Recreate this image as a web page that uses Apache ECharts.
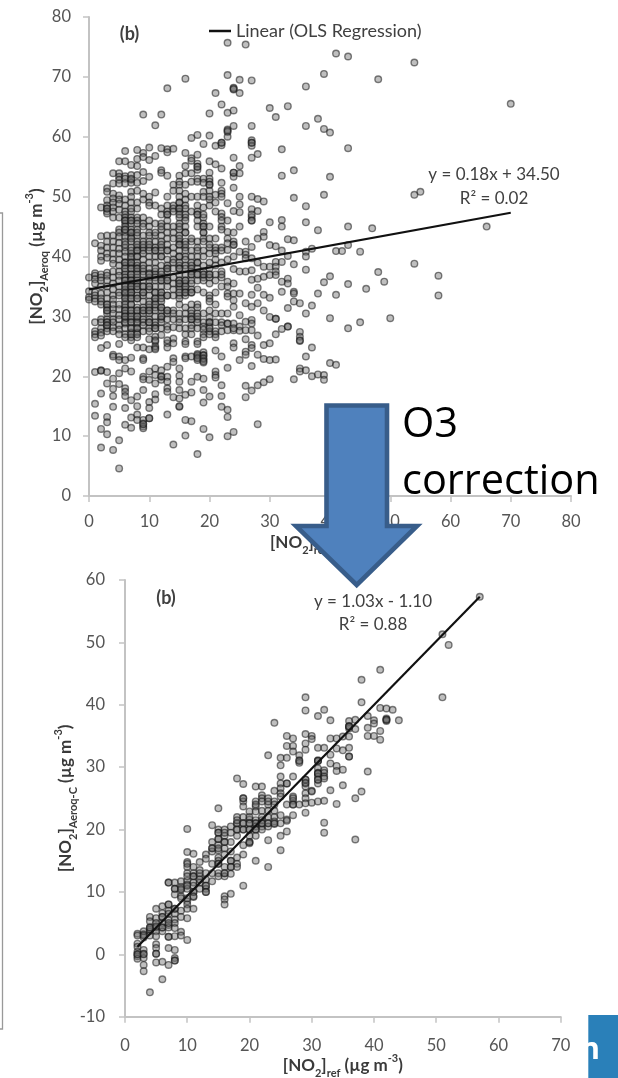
<!DOCTYPE html>
<html><head><meta charset="utf-8">
<style>html,body{margin:0;padding:0;background:#fff}
#c,#o{position:absolute;left:0;top:0;width:618px;height:1078px}
#c canvas{filter:blur(0.7px)}</style>
<script src="https://cdn.jsdelivr.net/npm/echarts@6/dist/echarts.min.js"></script>
</head><body><div id="c"></div><div id="o"></div>
<script>
// Each row: reference value x, then the sensor values read at that x
const topRows = [
[0,36.5,34.2,33.2,32.8],
[1,42.2,37.2,36.8,36.2,35.5,34,33.5,33,32.5,29,27.5,27,26.5,20.7,15.4,13.4],
[2,48.2,43.4,41.8,41,40,39.3,37,36.5,36,35,33.8,33,32.5,32,29.5,29,28,27.3,26.8,24.7,21,20.9,17.1,11.2,8.1],
[3,51.4,50.8,49.4,48.5,48,47.5,47.2,43.5,42.5,41.5,40.5,39.8,37.3,36.8,36,35,34,33,32,31.5,31,30.5,29.5,29,28.5,28,27.5,25.2,20.7,18.8,13.2,12.3,10.3],
[4,53.9,52.2,50.5,49.7,49,48.2,47.5,46.5,43.5,42.5,41.5,40.5,39.5,38.8,37.5,36.5,35.5,34.5,33.5,32.8,32,31.2,30.5,29.5,29,28.2,27.5,23.6,23.3,19.6,17.9,16.7,14.9,7.7],
[5,55.9,53.9,53.3,52.8,52.2,50.2,49.5,48.8,47.8,46.5,44.5,44,43.3,42.3,41.3,40.5,39.5,38.5,37.5,36.8,36,35,34,33.5,32,31.2,30.2,29.5,28.5,27.8,27,25.4,23.3,22.7,20.5,18.7,9.3,4.6],
[6,57.6,55.9,53.4,53,52.2,49.5,48.5,47.5,47,46.5,46,45.5,44.5,44,43.3,42.5,41.5,40.8,40,39,38.5,37.5,37,36.5,36,35.3,34.5,33.8,33.2,32.5,31.5,31,30.5,30,29.5,28.8,28,27,26.5,22.7,21.3,18,17.4,16.7,14.7,11.9],
[7,55.3,53.6,52.8,52.3,50.8,50,49,47.5,46.5,46,45.5,44.5,44,43.3,42.5,41.5,40.5,39.8,39,38.5,38,37,36.5,36,35.5,35,34.5,34,33.5,33,32,31,30.5,29.5,29,28,27.3,26.5,26,23.1,20.8,16,13.1,11.4],
[8,57.8,56.3,55.1,53.6,52.3,51,49,48,46.5,46,45.5,44.5,43.5,42.5,41.5,41,40,39,38.5,38,37.5,36.5,35.5,35,34.5,33.5,33,31.5,31,30,29.5,28.8,28,27.3,26.5,24.8,16.6,15,13.6,12.7],
[9,63.7,57.3,56.6,54.1,52.6,50.5,49.5,46.5,45.5,45,43.5,42.5,41.5,41,40.5,39.5,38.5,37.5,37,36,35,34,33.5,32.5,31.5,31,30.5,29.5,29,28.5,27.5,24.8,23,22.7,19.9,19.5,17.7,12.7,12.1,11.6,11.3],
[10,58.2,56.1,53.3,50,49,48.5,46,45,44,43.5,42.5,41.5,41,40,39,38,37.2,36.5,36,35,34.5,33.5,32.5,31.5,31,30.5,29.5,29,28,27.5,26.2,24.5,20.8,19.4,15.7,14.7,13],
[11,61.9,56.8,50.7,48.5,45.5,43.5,42.5,41.5,41,40,39,37.5,37,36.5,35,34,33,32.5,31.5,31,30,29,28.5,28,26.6,25.8,24.7,21.3,20.2,18.8,17,16.1],
[12,63.7,58.1,54.4,54,48,47,45.5,44.5,43.5,42.5,41.5,41,40,38.5,37.5,36.5,36,35,34,33.5,32.5,31.5,31,30,29.5,29,28,26.9,21,19.9,19.4],
[13,68.1,57.9,57.4,53.5,48.5,47.5,47,46,45,44,43,42,41,39.5,38.5,38,37.5,36.5,36,35,33.5,31,30.5,29.5,28.3,27.8,25.5,24.8,21.6,19.9,19.1,18,17.4,13.6],
[14,58,52,51,48.5,48,47.5,45,44,43,41.5,40.5,39.5,39,38,36.5,35.5,34.5,33.5,31,30.5,29.5,28.2,26.3,25.5,23,22.4,16.5,8.6],
[15,53.5,52.5,52,51,49,48,47.5,46.5,45.5,44.5,43.5,42.5,42,41,40,39,38.5,38,37,36,35.5,35,34.5,33.5,33,32,30.5,29.5,29,28,21.3,20.1,19.1,17.7,16.3,14.9],
[16,69.7,57.3,55.1,53.9,50.5,49.5,48.5,48,47,46.5,46,45,44,42.5,41.5,41,40,39.5,38.5,38,37,36,35.5,34.5,34,33.5,31.5,30.5,29.5,28,27,25.8,25.4,23.3,23,16.9,12.7,10.1],
[17,59.8,56.4,53.9,52.5,50,47.5,42.5,41,40,39,38.5,37.5,37,36,35.5,34.5,34,32,31,30.5,29.5,28.5,28,27,23.3,19.1,17.3,12.5],
[18,60.3,57,55.5,55,54.5,53,52.5,50,48.5,47.5,47,46,45,42.5,41.5,41,40,39,38,37,36,34.5,32,31.5,30.5,29.5,28,25.8,25.4,23.7,23.2,22.7,19.9,7],
[19,58.8,53,52.3,50.8,48.2,46.5,45.5,45,44,43,42.5,41,40,38.5,37.5,37,36.5,36,34,30.5,29,28.3,27.8,27,26.5,24,23.5,22.8,22.3,19.6,17.7,15.6,11.2],
[20,63.9,60.2,55.9,54,53,52.5,52,51,49.5,48.5,45,43,41.5,40.5,39,38,37,36.5,35.5,33.5,33,32.5,31,29.8,29,28.3,27.5,27,16.6,9.8],
[21,67.3,58.5,55.4,50.3,49,47.5,43,41.5,41,40.5,39.5,38.5,37,36,34,32,30.5,29,27.5,27,26.5,24.3,20.8,20.2,19.8],
[22,65.4,59,58.6,54.7,52.3,51,50.5,47.2,46.6,45,44.5,41.5,41,39,37.5,36.5,35,30.5,29,28.5,27.5,23.3,18.5,16.7,14.9],
[23,75.7,70.3,64,61.2,60.8,60,48.9,46,44.1,43,42.2,41.1,39.5,35.8,35,33.8,33.3,30.5,28.8,27.7,21.4,14.4,13.2,10],
[24,68.2,67.9,64.4,61.8,56.5,54,53.3,51.5,47.6,44,42.5,41.9,40,37.9,35.5,33.8,32.7,31.6,28.8,27.7,25.5,24.8,10.7],
[25,69.5,67.3,55.1,53.9,50,48.7,47.4,45,40.8,37.5,33.8,30.2,28.3,27.6,22.7],
[26,75.4,42.5,40.8,40.3,39.7,37.5,32.2,29.1,27.7,26.2,24.1,23.6,18.4,16.5],
[27,69.4,61.8,59.4,59,58.5,56.5,50,47.9,46.6,46,41.6,39.7,37.7,36.1,33.6,31.6,29.4,28.8,27.7,25.2,24.7,21.7,17.6],
[28,57.1,49.6,47.6,43,39,36.3,34.8,32.2,26.8,23.6,18.5,12],
[29,49.2,44.1,43.3,38.3,36.6,33.6,31,25.2,22.9,19],
[30,64.8,45.7,41.9,38.3,36.9,33.1,29.9,25.5,22.7,19.5],
[31,63.3,41.7,39.1,38.3,37.5,36.9,29.6,27,22.8],
[32,57.9,53.5,46.1,45,41,39.1,35.8,34.1,27.9],
[33,65.1,42.9,40.1,36.3,35.5,31.4,28.3],
[34,54.4,49.8,42.7,38.7,34.1,33.8,32.5,19.5],
[35,32.2,27.4,26.6,25.9,21.3,20.8],
[36,68.4,61.8,48.4,45.7,40.8,40,37.8,30.5,23.3],
[37,41.3,31.8,24.8,20],
[38,63,44.4,33.8,20.3],
[39,70.5,61.3,50.3,35.7,20.2,19.4],
[40,60.7,53.3,36.7,29.7,22.2],
[41,73.9,40.9,33.6,21.9],
[42,40.9],
[43,73.4,58.1,45,41.9,35.4,28],
[45,40.8,29],
[46,34.6],
[47,44.7],
[48,69.6,37.4],
[49,35.8],
[50,29.7],
[54,72.4,50.3,38.8],
[55,50.8],
[58,36.8,33.5],
[66,45],
[70,65.5]
];
// Marks printed over each other, where the reference goes nearly black
const topOverprintRows = [
[3,32,31,29,28.5,48],
[6,46,45,44.5,42,39,38,36,35,34,33,32,31,30,29],
[7,48,46,44,43,41,40,39,38,37,36,35,34,33,32,31,30,29,28,27,53],
[8,44,42,41,40,38,37,36,35,33,31,30,29,28,27],
[9,42,38,35,34,31,12],
[10,42,37,35,32,31,29,13],
[11,44,41,38,36,34,33,32,28,26,25,24.5],
[12,45,42,40,37,36,34,33,31.5,30,20],
[13,50,47,41,38,36,33.5,31,26],
[15,50,49,48,47,45,43,42,40,38,36,35.5,34,15],
[16,52,44,42,36,35,34],
[17,43,38,37,34,30,29.5,56],
[18,47,39,37,30,29,23.5,23,55],
[19,50,47,45,44,37,23.5,23,22.5],
[20,50,42,37,29,28,52],
[22,59,50,46,37],
[23,61,28.8],
[24,68,54,42,28],
[27,59,47,46],
[31,29.6],[33,28.3],[35,26],[36,21]
];
const bottomRows = [
[2,3.3,1.7,1.2,0.4,0,-0.3,-0.7],
[3,3.7,3.2,2.7,0.7,0.1,-0.6,-1.7,-2.7],
[4,6,5.3,4.3,3.7,3,-6.1],
[5,7.3,5.8,5,4.3,3.7,2.9,1.6,1,0.1,-1.3],
[6,7.7,6.6,6,5,4.3,3.7,-1.2,-4],
[7,11.5,8,7,6.5,5.5,4.7,4.3,2.8,1,-1.7],
[8,11.5,10.5,9.6,7.3,6.5,5.6,5,4.2,2.9,0.7,-0.6,-1],
[9,11.7,10.8,10.3,9.3,7,6,3.6,3],
[10,20.1,16.4,14.8,14,13,11.8,11.2,10.5,8.5,8,7.3,5.8,2.3],
[11,16.1,14,13,12.5,11.5,11,10,9.2,7.3],
[12,14.8,13.5,12.5,11.5,10.5],
[13,16,15.3,13,12,11,10.5,10],
[14,20.7,18,17,16.5,14.5,13,11.7],
[15,23.4,20,19.5,18.5,17.5,16.7,15.5,14.5,13,12.5],
[16,20,19,18,17,16,14,13,12.5,9.3,8.8,8],
[17,20.5,19.5,18,16.5,15,14,12.9,9.7],
[18,28.2,22,21,20,19,15.5,14.5,14],
[19,27.3,25,24.5,23.7,22,21,20,17.5,16,11],
[20,22.9,21.6,22,21,20,19,18,17.8],
[21,26.9,24.5,23.7,22.9,21.5,21,20.5,20,19,15],
[22,26.9,25.5,25,24.5,23,21.5,20.5,20],
[23,31.9,25,24,23,22,21,20.5,18.3,14],
[24,37.1,26.2,24.5,24,23,22,21.3,20.9],
[25,31.5,30.3,28.5,27.4,26.6,25.8,25.3,22.3,21,19,16.7],
[26,35,33.4,31.5,27.4,24,21.6,21.4,19.7],
[27,34.6,33.4,32.5,28.5,25.3,24.6,24,22.3],
[28,31.9,31.1,30.7,24],
[29,41.2,39.1,35.3,33.8,32.8,28,27.4,26.9,25.8,25,24.2,22.7],
[30,35,34.5,26.2,26.1,24.3],
[31,38.2,33.1,31.1,31,29.8,29.1,29,28.5,28,27.4,24.5],
[32,39.2,33.1,29.5,29.1,28.5,28.2,24.6,21.1,19.5],
[33,37.5,34.6,32,30.6,26.3],
[34,34.6,33,30.2,29.4,24.1],
[35,34.9,32.7,29.6,27.1],
[36,37.4,36.6,36.2,34.9,33.1,31.7],
[37,37.6,36.1,25,18.4],
[38,44,40.4,26.1],
[39,38.2,36.3,35,29.3],
[40,37.5,37,35],
[41,45.6,39.5,35.8,34.4],
[42,39.4,37.8,37.4],
[43,39.2],
[44,37.5],
[51,51.3,41.2],
[52,49.6],
[57,57.3]
];
const bottomOverprintRows = [
[2,0,3],[3,3,0],[4,4,4.3],[5,4.5,0.1],[6,4.3,6],[7,11.5,8,5,2.8],[8,10.5,7.3,-1],[9,10.5,9],
[10,14.5,12.5,11,9],[11,12.5,10,9.3],[12,13,12],[13,11,10],[14,17],[15,19.5,18.5,17,15,14.5],
[16,19.5,18,13],[17,15,14],[18,21,20,21.5],[19,25,21,20],[20,21,20,18],[21,21,20,24],
[22,22,21,21],[23,21,24.5],[24,21],[26,27.4],[27,25,24],[28,31],[29,28,27.5],[31,31,29,28],
[36,36.5,36.5,31.7],[42,37.6,37.6]
];
const topTicks = [0,80,10];
const bottomXTicks = [0,70,10];
const bottomYTicks = [-10,60,10];
const topFitX = [0, 70];
const topFitY = [34.5, 47.3];
const bottomFitX = [2, 57];
const bottomFitY = [1.2, 57.3];
const legendLabel = 'Linear (OLS Regression)';
const topEquation = 'y = 0.18x + 34.50';
const topR2 = 'R² = 0.02';
const bottomEquation = 'y = 1.03x - 1.10';
const bottomR2 = 'R² = 0.88';
const panelTag = '(b)';
const calloutLines = ['O3','correction'];

const F = 'Lato, "Open Sans", sans-serif';
const toPairs = rows => rows.flatMap(r => r.slice(1).map(y => [r[0], y]));
const zip = (a, b) => a.map((v, i) => [v, b[i]]);
const nameRich = {
  b:{fontFamily:F,fontWeight:'bold',fontSize:17,color:'#3a3a3a',lineHeight:26},
  s:{fontFamily:F,fontWeight:'bold',fontSize:11,color:'#3a3a3a',verticalAlign:'bottom',lineHeight:26},
  t:{fontFamily:F,fontWeight:'bold',fontSize:11,color:'#3a3a3a',verticalAlign:'top',lineHeight:26}
};
const axisCommon = {
  type:'value', splitLine:{show:false},
  axisLine:{show:true,onZero:false,lineStyle:{color:'#c3c3c3',width:2}},
  axisTick:{show:true,length:6,lineStyle:{color:'#c3c3c3',width:1.5}},
  axisLabel:{fontFamily:F,fontSize:16.5,color:'#555555',margin:18,hideOverlap:false},
  nameLocation:'middle', nameMoveOverlap:false, nameTextStyle:{rich:nameRich}
};
const pointStyle = {color:'rgba(110,110,110,0.55)',borderColor:'rgba(20,20,20,0.68)',borderWidth:1.4};
const txt = (x,y,text,extra,z) => ({type:'text',z:z||20,x,y,style:Object.assign({text,fontFamily:F,fontSize:17,fill:'#404040',align:'center',verticalAlign:'middle'},extra||{})});

const chart = echarts.init(document.getElementById('c'),null,{renderer:'canvas'});
chart.setOption({
  animation:false, backgroundColor:'#fff',
  legend:{data:[{name:legendLabel,icon:'rect'}],left:204,top:17,itemWidth:22,itemHeight:2.5,itemGap:3,
    textStyle:{fontFamily:F,fontSize:18,color:'#404040'}},
  grid:[
    {left:89,top:17,width:482,height:479,outerBoundsMode:'none'},
    {left:125,top:580,width:435.7,height:436.7,outerBoundsMode:'none'}
  ],
  xAxis:[
    Object.assign({},axisCommon,{gridIndex:0,min:topTicks[0],max:topTicks[1],interval:topTicks[2],name:'{b|[NO}{s|2}{b|]}{s|ref}{b| (µg m}{t|-3}{b|)}',nameGap:34,
      axisLabel:Object.assign({},axisCommon.axisLabel,{margin:17})}),
    Object.assign({},axisCommon,{gridIndex:1,min:bottomXTicks[0],max:bottomXTicks[1],interval:bottomXTicks[2],name:'{b|[NO}{s|2}{b|]}{s|ref}{b| (µg m}{t|-3}{b|)}',nameGap:36,
      axisLabel:Object.assign({},axisCommon.axisLabel,{margin:20})})
  ],
  yAxis:[
    Object.assign({},axisCommon,{gridIndex:0,min:topTicks[0],max:topTicks[1],interval:topTicks[2],name:'{b|[NO}{s|2}{b|]}{s|Aeroq}{b| (µg m}{t|-3}{b|)}',nameGap:39}),
    Object.assign({},axisCommon,{gridIndex:1,min:bottomYTicks[0],max:bottomYTicks[1],interval:bottomYTicks[2],name:'{b|[NO}{s|2}{b|]}{s|Aeroq-C}{b| (µg m}{t|-3}{b|)}',nameGap:46,
      axisLabel:Object.assign({},axisCommon.axisLabel,{margin:20})})
  ],
  series:[
    {name:'Aeroq vs reference',type:'scatter',xAxisIndex:0,yAxisIndex:0,data:toPairs(topRows).concat(toPairs(topOverprintRows)),symbolSize:6.6,itemStyle:pointStyle,z:2},
    {name:legendLabel,type:'line',xAxisIndex:0,yAxisIndex:0,data:zip(topFitX,topFitY),showSymbol:false,symbol:'none',
      lineStyle:{color:'#111',width:2.2},itemStyle:{color:'#111'},z:3},
    {name:'Aeroq-C vs reference',type:'scatter',xAxisIndex:1,yAxisIndex:1,data:toPairs(bottomRows).concat(toPairs(bottomOverprintRows)),symbolSize:6.6,itemStyle:pointStyle,z:2},
    {name:'Fit corrected',type:'line',xAxisIndex:1,yAxisIndex:1,data:zip(bottomFitX,bottomFitY),showSymbol:false,symbol:'none',
      lineStyle:{color:'#111',width:2.2},itemStyle:{color:'#111'},z:3}
  ],
  graphic:[
    {type:'polyline',z:1,shape:{points:[[0,213],[2.5,213],[2.5,1029],[0,1029]]},style:{stroke:'#999',lineWidth:1.3,fill:null}},
    txt(129.5,34,panelTag,{fontWeight:'bold',fontSize:18}),
    txt(166,598,panelTag,{fontWeight:'bold',fontSize:18}),
    txt(494,175,topEquation),
    txt(494,199,topR2),
    txt(373,602,bottomEquation),
    txt(373,625,bottomR2)
  ]
});
// Crisp slide overlay: arrow, callout and the cropped banner
const overlay = echarts.init(document.getElementById('o'),null,{renderer:'canvas'});
overlay.setOption({
  animation:false,
  graphic:[
    {type:'polygon',z:30,shape:{points:[[326.5,405.5],[387,405.5],[387,526],[417,526],[356.7,585],[296,526],[326.5,526]]},
      style:{fill:'#4f81bd',stroke:'#385d8a',lineWidth:4.6,lineJoin:'miter',miterLimit:10}},
    txt(402,425,calloutLines[0],{fontFamily:'"Open Sans",sans-serif',fontSize:41.5,fill:'#000',align:'left'},31),
    txt(402,482,calloutLines[1],{fontFamily:'"Open Sans",sans-serif',fontSize:41.5,fill:'#000',align:'left'},31),
    {type:'rect',z:30,shape:{x:588.3,y:1015,width:30,height:63},style:{fill:'#2a80b9'}},
    txt(600,1050,'n',{fontFamily:'"Open Sans",sans-serif',fontSize:30,fontWeight:'bold',fill:'#fff',align:'right'},31)
  ]
});
</script></body></html>
